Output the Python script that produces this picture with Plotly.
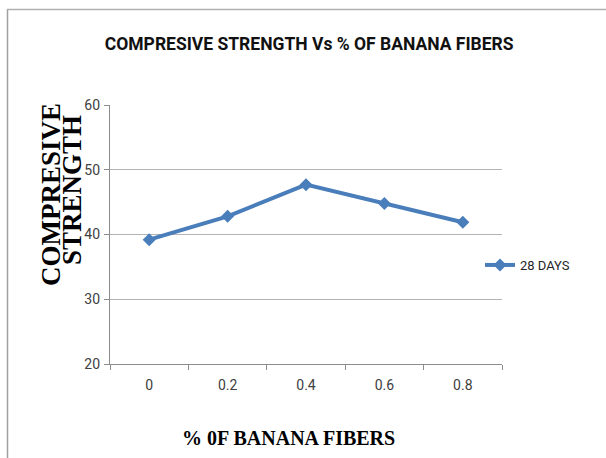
import plotly.graph_objects as go

categories = ["0", "0.2", "0.4", "0.6", "0.8"]
strength_28_days = [39.2, 42.8, 47.7, 44.8, 41.9]
series_name = "28 DAYS"
y_ticks = [20, 30, 40, 50, 60]

W, H = 606, 458
L, R, T, B = 110, 104, 105, 94
pw, ph = W - L - R, H - T - B

def px_x(x):
    return (x - L) / pw

def px_y(y):
    return (H - B - y) / ph

narrow = "Roboto, Liberation Sans, sans-serif"
serif = "Liberation Serif, Times New Roman, serif"

fig = go.Figure()
fig.add_trace(go.Scatter(
    x=categories, y=strength_28_days, name=series_name,
    mode="lines+markers",
    line=dict(color="#4A7EBB", width=4),
    marker=dict(symbol="diamond", size=10, color="#4A7EBB"),
))

fig.update_layout(
    width=W, height=H,
    margin=dict(l=L, r=R, t=T, b=B, autoexpand=False),
    paper_bgcolor="white", plot_bgcolor="white",
    showlegend=True,
    legend=dict(x=px_x(480), y=px_y(265), xanchor="left", yanchor="middle",
                font=dict(family=narrow, size=13, color="#262626"),
                itemwidth=30, bgcolor="rgba(0,0,0,0)"),
    title=dict(text="<b>COMPRESIVE STRENGTH Vs % OF BANANA FIBERS</b>",
               x=px_x(310), xanchor="center", y=1 - 44 / H, yanchor="middle",
               font=dict(family=narrow, size=17.5, color="#111111")),
    xaxis=dict(type="category", range=[-0.5, 4.5], tickson="boundaries",
               showline=True, linecolor="#8c8c8c", linewidth=1.3,
               ticks="outside", ticklen=5, tickcolor="#8c8c8c",
               showgrid=False, zeroline=False,
               tickfont=dict(family=narrow, size=14, color="#404040"),
               ticklabelstandoff=8),
    yaxis=dict(range=[20, 60], tickvals=y_ticks, showline=True,
               linecolor="#8c8c8c", linewidth=1.3,
               ticks="outside", ticklen=5, tickcolor="#8c8c8c",
               showgrid=True, gridcolor="#b4b4b4", gridwidth=1, zeroline=False,
               tickfont=dict(family=narrow, size=14, color="#404040"),
               ticklabelstandoff=1),
)

fig.add_annotation(text="<b>% 0F BANANA FIBERS</b>", xref="paper", yref="paper",
                   x=px_x(288), y=px_y(438), xanchor="center", yanchor="middle",
                   showarrow=False, font=dict(family=serif, size=20, color="black"))
fig.add_annotation(text="<b>COMPRESIVE</b>", xref="paper", yref="paper",
                   x=px_x(51), y=px_y(195), xanchor="center", yanchor="middle",
                   textangle=-90, showarrow=False,
                   font=dict(family=serif, size=27, color="black"))
fig.add_annotation(text="<b>STRENGTH</b>", xref="paper", yref="paper",
                   x=px_x(72), y=px_y(190), xanchor="center", yanchor="middle",
                   textangle=-90, showarrow=False,
                   font=dict(family=serif, size=27, color="black"))

# outer frame (left and top edges)
fig.add_shape(type="line", xref="paper", yref="paper",
              x0=px_x(7.5), x1=px_x(7.5), y0=px_y(9), y1=px_y(458),
              line=dict(color="#a0a0a0", width=1.5))
fig.add_shape(type="line", xref="paper", yref="paper",
              x0=px_x(7), x1=px_x(606), y0=px_y(9.5), y1=px_y(9.5),
              line=dict(color="#b0b0b0", width=1.5))

fig.write_html("out.html", config={"displayModeBar": False},
               post_script="document.body.style.margin='0';")
